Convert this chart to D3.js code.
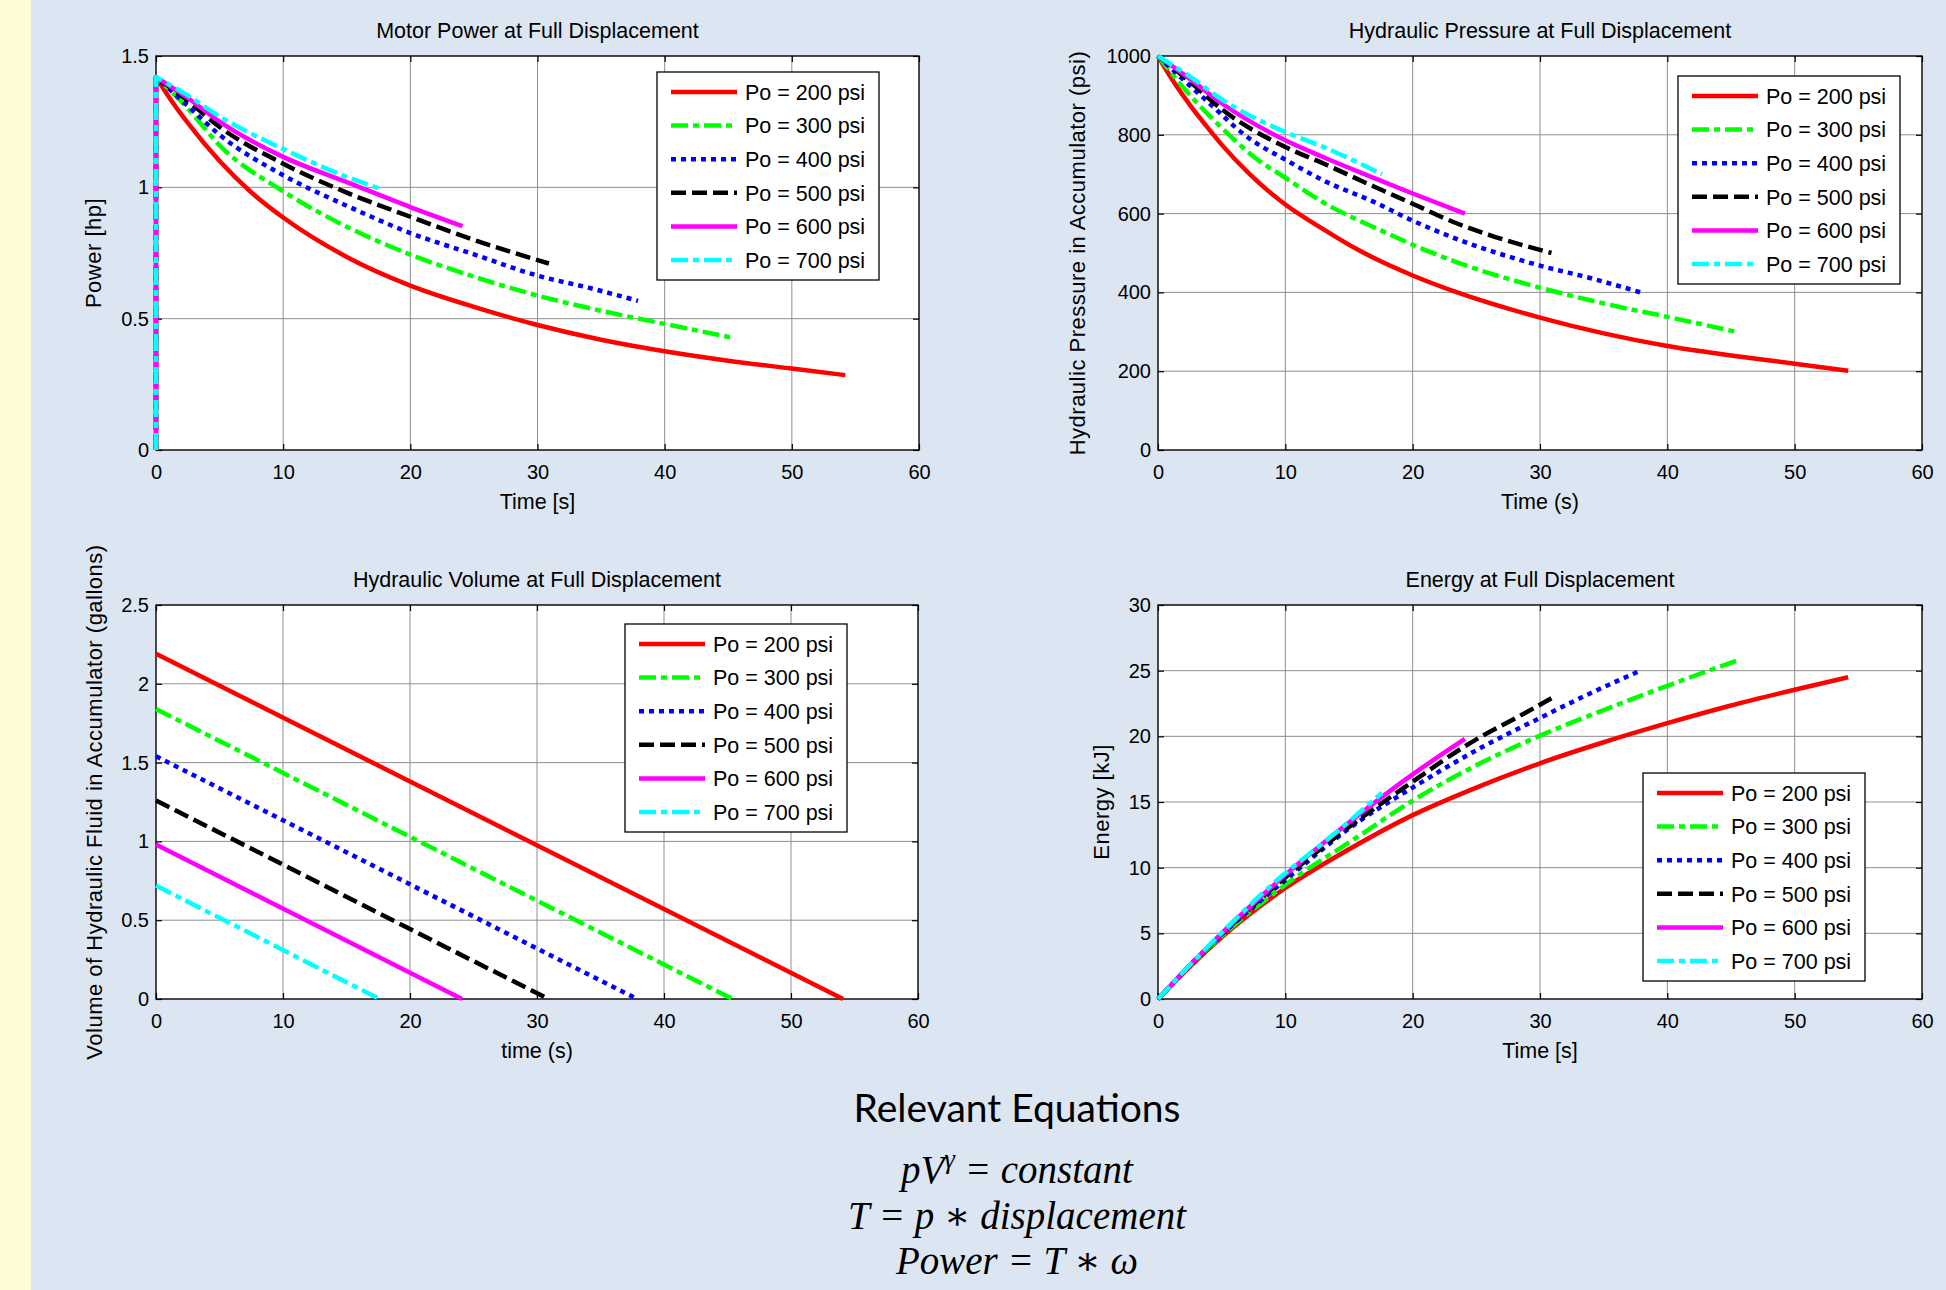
<!DOCTYPE html>
<html>
<head>
<meta charset="utf-8">
<title>Accumulator at Full Displacement</title>
<script src="https://cdn.jsdelivr.net/npm/d3@7"></script>
<style>
	body { margin: 0; background: #dce6f2; }
	svg { display: block; }
	text { font-family: Arial, "Liberation Sans", sans-serif; fill: #000; }
</style>
</head>
<body>
<svg id="slide" width="1946" height="1290"></svg>
<script>
	/*** Data ***/

	var legendLabels = ["Po = 200 psi", "Po = 300 psi", "Po = 400 psi", "Po = 500 psi", "Po = 600 psi", "Po = 700 psi"];

	var timeTicks = [0, 10, 20, 30, 40, 50, 60];
	var powerTicks = [0, 0.5, 1, 1.5];
	var pressureTicks = [0, 200, 400, 600, 800, 1000];
	var volumeTicks = [0, 0.5, 1, 1.5, 2, 2.5];
	var energyTicks = [0, 5, 10, 15, 20, 25, 30];

	// motor power [hp] vs time [s], one row per precharge pressure
	var powerTime = [
		[0, 0, 1, 2.5, 5, 7.4, 10, 15, 20, 25, 30, 35, 40, 45, 50, 54.2],
		[0, 0, 2.5, 5, 10, 15, 20, 25, 30, 35, 40, 45.4],
		[0, 0, 2.5, 5, 10, 15, 20, 25, 30, 34, 37.9],
		[0, 0, 2.5, 5, 10, 15, 20, 25, 30.9],
		[0, 0, 2.5, 5, 10, 15, 20, 24.1],
		[0, 0, 2.5, 5, 10, 15, 17.6]
	];
	var powerHp = [
		[0, 1.42, 1.345, 1.245, 1.1, 0.985, 0.885, 0.735, 0.626, 0.545, 0.476, 0.42, 0.376, 0.34, 0.31, 0.285],
		[0, 1.42, 1.3, 1.16, 0.985, 0.85, 0.744, 0.66, 0.588, 0.53, 0.48, 0.427],
		[0, 1.42, 1.31, 1.2, 1.046, 0.93, 0.826, 0.745, 0.664, 0.618, 0.568],
		[0, 1.42, 1.33, 1.23, 1.09, 0.98, 0.888, 0.8, 0.71],
		[0, 1.42, 1.34, 1.25, 1.116, 1.02, 0.925, 0.852],
		[0, 1.42, 1.35, 1.27, 1.146, 1.04, 0.995]
	];

	// accumulator pressure [psi] vs time [s]
	var pressureTime = [
		[0, 1, 2.5, 3.9, 5, 7.2, 10, 13, 15.6, 20, 23.5, 30, 35, 40, 45, 50, 54.2],
		[0, 2.2, 5, 7.7, 10, 12.9, 17.8, 20, 23.6, 30, 35, 40, 45.4],
		[0, 2.5, 3.8, 7.2, 10, 13, 17, 20, 23.1, 30, 34, 37.9],
		[0, 2.5, 5, 10, 13, 17, 20, 23.1, 26.1, 30.9],
		[0, 2.5, 5, 10, 13, 17, 20, 24.1],
		[0, 2.5, 5, 10, 13, 17.6]
	];
	var pressurePsi = [
		[1000, 946, 876, 818, 775, 700, 623, 560, 510, 443, 400, 336, 296, 264, 240, 219, 201],
		[1000, 912, 818, 740, 691, 630, 553, 521, 475, 412, 372, 338, 300],
		[1000, 925, 887, 790, 737, 684, 629, 582, 540, 468, 436, 400],
		[1000, 935, 865, 769, 727, 668, 625, 580, 545, 500],
		[1000, 942, 880, 786, 743, 690, 651, 600],
		[1000, 948, 890, 807, 769, 700]
	];

	// fluid volume [gallons] vs time [s]
	var volumeTime = [[0, 54.1], [0, 45.4], [0, 37.9], [0, 30.9], [0, 24.1], [0, 17.6]];
	var volumeGal = [[2.19, 0], [1.84, 0], [1.54, 0], [1.26, 0], [0.98, 0], [0.72, 0]];

	// delivered energy [kJ] vs time [s]
	var energyTime = [
		[0, 2.5, 5, 10, 15, 20, 25, 30, 35, 40, 45, 50, 54.2],
		[0, 2.5, 5, 10, 15.6, 20, 25, 30, 35, 40, 45.4],
		[0, 2.5, 5, 10, 15.6, 20, 25.5, 30, 34, 37.9],
		[0, 2.5, 5, 10, 15, 20, 24.2, 25.5, 28.5, 30.9],
		[0, 2.5, 5, 10, 15.6, 20, 24.1],
		[0, 2.5, 5, 10, 13, 17.6]
	];
	var energyKJ = [
		[0, 2.45, 4.7, 8.45, 11.4, 14.0, 16.1, 17.95, 19.55, 21.0, 22.35, 23.55, 24.5],
		[0, 2.55, 4.8, 8.7, 12.3, 15.1, 17.8, 20.05, 22.0, 23.85, 25.75],
		[0, 2.55, 4.9, 9.05, 13.4, 16.1, 19.2, 21.4, 23.3, 25.0],
		[0, 2.56, 4.95, 9.25, 13.1, 16.55, 19.3, 20.05, 21.6, 22.9],
		[0, 2.57, 5.0, 9.45, 13.9, 17.1, 19.8],
		[0, 2.58, 5.05, 9.6, 11.9, 15.7]
	];

	/*** Styles ***/
	var seriesColors = ["#ff0000", "#00ff00", "#0000ff", "#000000", "#ff00ff", "#00ffff"];
	var seriesDash = [null, "17,5,6,5", "5,5", "15,6", null, "17,5,6,5"];

	var panels = [
		{ title: "Motor Power at Full Displacement", xLabel: "Time [s]", yLabel: "Power [hp]",
		  left: 156, right: 919, top: 56, bottom: 450, yTicks: powerTicks,
		  time: powerTime, vals: powerHp, yLabelX: 101, legend: [657, 72] },
		{ title: "Hydraulic Pressure at Full Displacement", xLabel: "Time (s)", yLabel: "Hydraulic Pressure in Accumulator (psi)",
		  left: 1158, right: 1922, top: 56, bottom: 450, yTicks: pressureTicks,
		  time: pressureTime, vals: pressurePsi, yLabelX: 1085, legend: [1678, 76] },
		{ title: "Hydraulic Volume at Full Displacement", xLabel: "time (s)", yLabel: "Volume of Hydraulic Fluid in Accumulator (gallons)",
		  left: 156, right: 918, top: 605, bottom: 999, yTicks: volumeTicks,
		  time: volumeTime, vals: volumeGal, yLabelX: 102, legend: [625, 624] },
		{ title: "Energy at Full Displacement", xLabel: "Time [s]", yLabel: "Energy [kJ]",
		  left: 1158, right: 1922, top: 605, bottom: 999, yTicks: energyTicks,
		  time: energyTime, vals: energyKJ, yLabelX: 1109, legend: [1643, 773] }
	];

	var svg = d3.select("#slide");

	// slide background with the yellow strip on the left
	svg.append("rect").attr("width", 1946).attr("height", 1290).attr("fill", "#dce6f2");
	svg.append("rect").attr("width", 31).attr("height", 1290).attr("fill", "#fffbd7");

	panels.forEach(drawPanel);
	drawEquations();

	/*** Functions ***/

	function tickText(d) { return String(d); }

	/* one MATLAB-style subplot */
	function drawPanel(p) {
		var x = d3.scaleLinear().domain([0, 60]).range([p.left, p.right]),
			y = d3.scaleLinear().domain([0, p.yTicks[p.yTicks.length - 1]]).range([p.bottom, p.top]),
			g = svg.append("g");

		g.append("rect")
			.attr("x", p.left).attr("y", p.top)
			.attr("width", p.right - p.left).attr("height", p.bottom - p.top)
			.attr("fill", "#fff");

		// grid
		g.selectAll(".vgrid").data(timeTicks.slice(1, -1)).join("line")
			.attr("x1", d => x(d)).attr("x2", d => x(d))
			.attr("y1", p.top).attr("y2", p.bottom)
			.attr("stroke", "#8f8f8f").attr("stroke-width", 1);
		g.selectAll(".hgrid").data(p.yTicks.slice(1, -1)).join("line")
			.attr("y1", d => y(d)).attr("y2", d => y(d))
			.attr("x1", p.left).attr("x2", p.right)
			.attr("stroke", "#8f8f8f").attr("stroke-width", 1);

		// ticks on all four sides, pointing in
		styleAxis(g.append("g").attr("transform", "translate(0," + p.bottom + ")")
			.call(d3.axisBottom(x).tickValues(timeTicks).tickSizeInner(-6).tickSizeOuter(0).tickPadding(15).tickFormat(tickText)));
		styleAxis(g.append("g").attr("transform", "translate(0," + p.top + ")")
			.call(d3.axisTop(x).tickValues(timeTicks).tickSizeInner(-6).tickSizeOuter(0).tickFormat("")));
		styleAxis(g.append("g").attr("transform", "translate(" + p.left + ",0)")
			.call(d3.axisLeft(y).tickValues(p.yTicks).tickSizeInner(-6).tickSizeOuter(0).tickPadding(7).tickFormat(tickText)));
		styleAxis(g.append("g").attr("transform", "translate(" + p.right + ",0)")
			.call(d3.axisRight(y).tickValues(p.yTicks).tickSizeInner(-6).tickSizeOuter(0).tickFormat("")));

		g.append("rect")
			.attr("x", p.left).attr("y", p.top)
			.attr("width", p.right - p.left).attr("height", p.bottom - p.top)
			.attr("fill", "none").attr("stroke", "#000").attr("stroke-width", 1.4);

		// data lines
		var line = d3.line().x(d => x(d[0])).y(d => y(d[1])).curve(d3.curveMonotoneX);
		p.vals.forEach(function(vals, i) {
			var pts = p.time[i].map(function(t, j) { return [t, vals[j]]; }),
				d;
			if (pts[0][0] === pts[1][0]) {
				// vertical jump at t = 0 before the curve
				d = "M" + x(pts[0][0]) + "," + y(pts[0][1]) + "L" + line(pts.slice(1)).slice(1);
			} else {
				d = line(pts);
			}
			g.append("path")
				.attr("d", d)
				.attr("fill", "none")
				.attr("stroke", seriesColors[i])
				.attr("stroke-width", 4.5)
				.attr("stroke-linejoin", "round")
				.attr("stroke-dasharray", seriesDash[i]);
		});

		// labels
		var cx = (p.left + p.right) / 2;
		g.append("text").attr("x", cx).attr("y", p.top - 18)
			.attr("text-anchor", "middle").style("font-size", "21.5px").text(p.title);
		g.append("text").attr("x", cx).attr("y", p.bottom + 59)
			.attr("text-anchor", "middle").style("font-size", "21.5px").text(p.xLabel);
		g.append("text")
			.attr("transform", "translate(" + p.yLabelX + "," + ((p.top + p.bottom) / 2) + ") rotate(-90)")
			.attr("text-anchor", "middle")
			.style("font-size", "22px").style("letter-spacing", "0.5px")
			.text(p.yLabel);

		drawLegend(g, p.legend);
	}

	function styleAxis(sel) {
		sel.attr("font-size", null).attr("font-family", null);
		sel.select(".domain").remove();
		sel.selectAll("line").attr("stroke", "#000").attr("stroke-width", 1.2);
		sel.selectAll("text").style("font-size", "20px");
	}

	/* boxed legend with sample lines */
	function drawLegend(g, pos) {
		var lg = g.append("g").attr("transform", "translate(" + pos[0] + "," + pos[1] + ")");
		lg.append("rect").attr("width", 222).attr("height", 208)
			.attr("fill", "#fff").attr("stroke", "#000").attr("stroke-width", 1.3);
		legendLabels.forEach(function(label, i) {
			var ry = 20 + i * 33.6;
			lg.append("line")
				.attr("x1", 14).attr("x2", 80).attr("y1", ry).attr("y2", ry)
				.attr("stroke", seriesColors[i]).attr("stroke-width", 4.5)
				.attr("stroke-dasharray", seriesDash[i]);
			lg.append("text").attr("x", 88).attr("y", ry + 7.7)
				.style("font-size", "21.5px").text(label);
		});
	}

	/* text block under the plots */
	function drawEquations() {
		var cx = 1017,
			eq = svg.append("g").attr("text-anchor", "middle");

		eq.append("text").attr("x", cx).attr("y", 1122)
			.style("font-family", "Lato, 'Open Sans', sans-serif").style("font-size", "39px")
			.text("Relevant Equations");

		var mathFont = "'Liberation Serif', 'DejaVu Serif', serif";
		var l1 = eq.append("text").attr("x", cx).attr("y", 1183)
			.style("font-family", mathFont).style("font-style", "italic").style("font-size", "39px");
		l1.append("tspan").text("pV");
		l1.append("tspan").attr("dy", -15).style("font-size", "27px").text("γ");
		l1.append("tspan").attr("dy", 15).text("  =  constant");

		eq.append("text").attr("x", cx).attr("y", 1229)
			.style("font-family", mathFont).style("font-style", "italic").style("font-size", "39px")
			.text("T = p ∗ displacement");
		eq.append("text").attr("x", cx).attr("y", 1274)
			.style("font-family", mathFont).style("font-style", "italic").style("font-size", "39px")
			.text("Power = T ∗ ω");
	}
</script>
</body>
</html>
